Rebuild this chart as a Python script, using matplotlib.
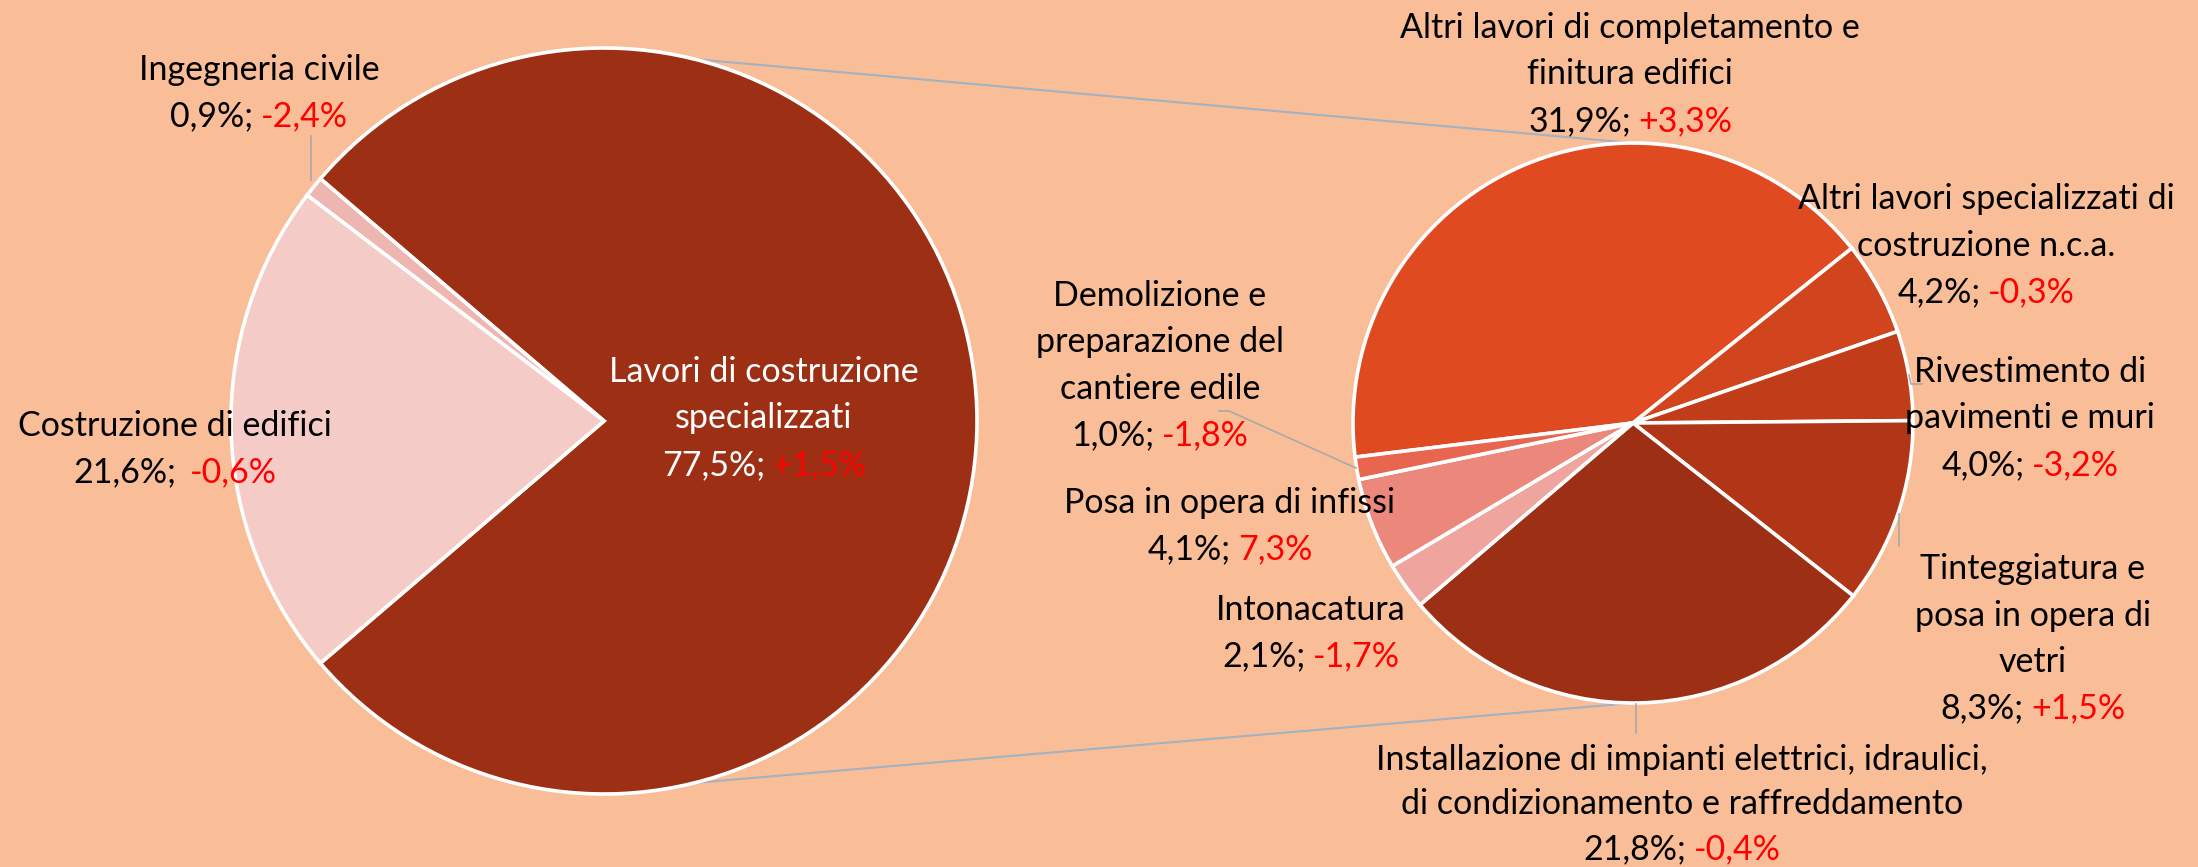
import numpy as np
import matplotlib.pyplot as plt

plt.rcParams['font.family'] = ['Lato', 'DejaVu Sans']

# Left pie: sector split
left_names = ["Lavori di costruzione\nspecializzati", "Ingegneria civile", "Costruzione di edifici"]
left_share = [77.5, 0.9, 21.6]
left_chg = ["+1,5%", "-2,4%", "-0,6%"]
left_colors = ["#9C2F14", "#EDB6B1", "#F4CBC6"]

# Right pie: breakdown of "Lavori di costruzione specializzati"
right_names = ["Altri lavori di completamento e\nfinitura edifici",
               "Altri lavori specializzati di\ncostruzione n.c.a.",
               "Rivestimento di\npavimenti e muri",
               "Tinteggiatura e\nposa in opera di\nvetri",
               "Installazione di impianti elettrici, idraulici,\ndi condizionamento e raffreddamento",
               "Intonacatura",
               "Posa in opera di infissi",
               "Demolizione e\npreparazione del\ncantiere edile"]
right_share = [31.9, 4.2, 4.0, 8.3, 21.8, 2.1, 4.1, 1.0]
right_chg = ["+3,3%", "-0,3%", "-3,2%", "+1,5%", "-0,4%", "-1,7%", "7,3%", "-1,8%"]
right_colors = ["#E04A21", "#D0441E", "#C13D1A", "#B13517", "#9C2F14",
                "#EFA59E", "#EC877C", "#E8654F"]

W, H = 2198, 867
BG = "#F9BE98"
FS = 24.5
LH = 46.5

fig = plt.figure(figsize=(W / 100, H / 100), dpi=100, facecolor=BG)
ax = fig.add_axes([0, 0, 1, 1])
ax.set_facecolor(BG)

def Y(y):
    return H - y

lc, lr = (604, Y(421)), 373
rc, rr = (1633, Y(423)), 280
wp = dict(edgecolor="white", linewidth=2.6)

ax.pie(left_share, colors=left_colors, startangle=-left_share[0] / 100 * 360 / 2,
       center=lc, radius=lr, wedgeprops=wp)
ax.pie(right_share, colors=right_colors, startangle=187, counterclock=False,
       center=rc, radius=rr, wedgeprops=wp)

ax.set_xlim(0, W)
ax.set_ylim(0, H)
ax.set_aspect("equal")
ax.axis("off")

# connector lines between the two pies
a = np.deg2rad(76)
for s in (1, -1):
    ax.plot([lc[0] + lr * np.cos(a), rc[0]], [lc[1] + s * lr * np.sin(a), rc[1] + s * rr],
            color="#A3B1C0", lw=1.5, zorder=0)

# leader lines
lead = "#A9A9A9"
ax.plot([311, 311], [Y(136), Y(180)], color=lead, lw=1.2)
ax.plot([1219, 1229, 1356], [Y(411), Y(411), Y(468)], color=lead, lw=1.2)
ax.plot([1909, 1911, 1922], [Y(375), Y(384), Y(384)], color=lead, lw=1.2)
ax.plot([1899, 1899], [Y(514), Y(546)], color=lead, lw=1.2)
ax.plot([1636, 1636], [Y(704), Y(733)], color=lead, lw=1.2)

renderer = fig.canvas.get_renderer()

def label(x, y, name, share, chg, color="black", gap=1, lh=LH):
    lines = name.split("\n")
    for i, ln in enumerate(lines):
        ax.text(x, Y(y + i * lh), ln, ha="center", va="center_baseline",
                fontsize=FS, color=color)
    yy = Y(y + len(lines) * lh)
    t1 = ax.text(0, yy, f"{share:.1f}".replace(".", ",") + "%;", ha="left",
                 va="center_baseline", fontsize=FS, color=color)
    t2 = ax.text(0, yy, chg, ha="left", va="center_baseline", fontsize=FS, color="#FF0000")
    w1 = t1.get_window_extent(renderer).width
    w2 = t2.get_window_extent(renderer).width
    sp = 7 * gap
    x0 = x - (w1 + sp + w2) / 2
    t1.set_x(x0)
    t2.set_x(x0 + w1 + sp)

left_pos = [(764, 369), (259, 67), (175, 423)]
for (x, y), n, s, c in zip(left_pos, left_names, left_share, left_chg):
    label(x, y, n, s, c, color="white" if n.startswith("Lavori") else "black",
          gap=2 if n.startswith("Costruzione") else 1)

right_pos = [(1630, 25), (1986, 196), (2030, 369), (2033, 566),
             (1682, 757), (1311, 607), (1230, 500), (1160, 293)]
for (x, y), n, s, c in zip(right_pos, right_names, right_share, right_chg):
    label(x, y, n, s, c, lh=44.5 if n.startswith("Installazione") else LH)

fig.savefig("out.png", dpi=100, facecolor=BG)
